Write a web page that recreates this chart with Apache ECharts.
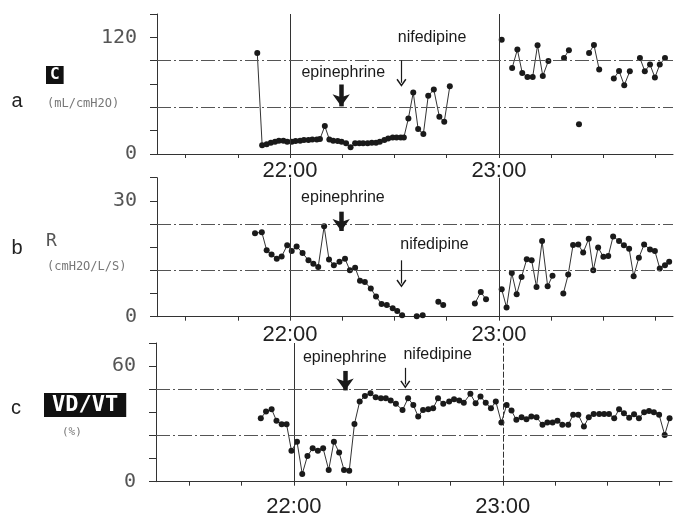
<!DOCTYPE html>
<html><head><meta charset="utf-8">
<script src="https://cdn.jsdelivr.net/npm/echarts@6/dist/echarts.min.js"></script>
<style>html,body{margin:0;padding:0;background:#fff}#chart{width:679px;height:518px}</style>
</head><body><div id="chart"></div>
<script>
// Time is in minutes after 21:00; null marks a break in the trace.
const xTickValues = [30, 45, 60, 75, 90, 105, 120, 135, 150, 165];
const xLabelValues = [60, 120];
const xLabelTexts = ['22:00', '23:00'];

const eventNames = ['epinephrine', 'nifedipine'];
const eventTimes = [74.7, 92.0];

const panelLetters = ['a', 'b', 'c'];
const panelVars = ['C', 'R', 'VD/VT'];
const panelUnits = ['(mL/cmH2O)', '(cmH2O/L/S)', '(%)'];

const aYLabels = [0, 120];
const bYLabels = [0, 30];
const cYLabels = [0, 60];

// a: C (mL/cmH2O)
const aTime = [50.6,52.0,53.3,54.5,55.7,56.8,58.1,59.2,60.5,61.6,
  62.9,64.0,65.3,66.4,67.7,68.6,70.0,71.3,72.4,73.7,
  74.8,76.1,77.4,78.7,79.9,81.0,82.3,83.5,84.7,85.8,
  87.1,88.2,89.5,90.6,91.8,92.7,94.0,95.4,96.8,98.3,
  99.7,101.3,102.9,104.3,105.9,
  null,120.8,null,123.8,125.3,126.7,128.2,129.7,131.1,132.6,134.2,
  null,138.7,140.1,null,143.0,null,145.9,147.3,148.8,
  null,153.0,154.5,156.0,157.6,null,160.5,161.9,163.4,164.8,166.2,167.7];
const aValue = [104,9,10,11.6,12.6,13.6,13.6,12.6,12.6,13.3,
  13.6,14.4,14.4,15,15,15.4,28.7,15,13.6,13.3,
  12.6,11,6.9,11,11,11,11,11.6,11.6,12.6,
  14.4,16,17,17,17,17,36.6,63.3,25.6,20.5,
  59.8,66.3,38.3,33.1,69.7,
  null,117.6,null,88.5,107.4,83.4,79.3,79.3,111.8,80.3,95.7,
  null,98.8,106.7,null,30.5,null,103.9,112.1,86.9,
  null,77.6,85.4,70.8,85.1,null,98.8,85.1,92,78.7,92,98.8];

// b: R (cmH2O/L/S)
const bTime = [49.95,51.9,53.3,54.7,56.2,57.6,59.2,60.5,61.9,63.6,
  65.3,66.7,68.1,69.8,71.2,72.6,74.2,75.8,77.2,78.7,
  80.1,81.5,83.2,84.7,86.3,87.8,89.5,90.8,92.2,
  null,96.4,98.1,null,102.6,104.0,null,113.1,114.8,116.3,
  null,120.8,122.2,123.7,125.1,126.5,128.0,129.4,130.8,132.4,134.0,135.4,
  null,138.5,139.9,141.3,142.8,144.2,145.8,147.1,148.5,150.0,151.4,
  152.8,154.5,155.9,157.4,158.7,160.2,161.7,163.4,164.8,166.2,
  167.7,168.9];
const bValue = [21.6,21.9,17.2,16.1,15.0,15.6,18.5,17.0,18.2,16.5,
  14.6,13.7,12.9,23.4,14.8,13.3,14.2,15.0,12.0,12.7,
  9.3,9.0,7.3,5.2,3.3,3.0,2.2,1.5,0.4,
  null,0.1,0.4,null,3.9,3.0,null,3.4,6.4,4.5,
  null,7.1,2.4,11.3,5.8,10.3,14.9,14.6,7.7,19.6,7.9,10.6,
  null,6.0,10.9,18.6,18.7,16.6,20.2,12.0,17.9,15.5,15.7,
  20.8,19.6,18.5,17.6,10.5,15.3,18.7,17.4,17.0,12.5,
  13.3,14.2];

// c: VD/VT (%)
const cTime = [50.5,52.0,53.6,55.0,56.5,57.9,59.3,60.9,62.4,63.9,
  65.4,66.9,68.4,70.0,71.5,73.0,74.4,75.9,77.4,78.9,
  80.4,82.0,83.5,85.0,86.4,87.8,89.3,91.2,92.8,94.3,
  95.7,97.1,98.6,100.0,101.4,102.9,104.6,106.0,107.5,108.8,
  110.7,112.2,113.6,115.1,116.6,118.0,119.6,121.1,122.5,123.9,
  125.4,126.8,128.2,129.7,131.4,132.8,134.3,135.7,137.1,138.8,
  140.2,141.7,143.3,144.7,146.1,147.7,149.1,150.5,152.0,153.4,
  154.8,156.3,157.7,159.1,160.6,162.0,163.4,164.9,166.5,167.9];
const cValue = [32.9,36.4,37.6,31.7,29.8,29.8,16.1,20.8,4.0,13.4,
  17.3,16.1,17.3,6.1,20.8,15.1,6.1,5.7,30.0,41.6,
  44.5,45.9,43.8,43.3,43.3,42.1,40.4,37.2,43.3,39.8,
  33.8,37.2,37.6,38.1,43.3,40.4,41.6,42.8,42.1,41.0,
  45.6,40.7,44.2,41.0,38.1,41.6,30.7,39.8,36.9,32.1,
  33.5,32.4,33.8,33.5,29.5,30.7,30.7,31.7,29.5,29.5,
  34.7,34.7,28.6,33.5,35.2,35.2,35.2,35.2,32.9,37.6,
  35.5,33.2,35.0,32.9,36.1,36.7,36.1,34.7,24.3,32.9];

// ---------- layout (positions / styles) ----------
const panels = [
  { time: aTime, value: aValue, yLabels: aYLabels,
    grid: {left: 157, top: 14, width: 516, height: 140},
    xMin: 21.8, xMax: 170, yMax: 144, yInt: 24, guides: [48, 96], xLabelMargin: 6,
    epiText: [75.3, 83.4], epiArrow: [71.5, 49.0], nifText: [100.8, 120], nifArrow: [96.4, 73.3],
    vDashed: [false, false] },
  { time: bTime, value: bValue, yLabels: bYLabels,
    grid: {left: 157, top: 177.7, width: 516, height: 139},
    xMin: 21.8, xMax: 170, yMax: 36, yInt: 6, guides: [12, 24], xLabelMargin: 7,
    epiText: [75.2, 30.8], epiArrow: [27.2, 22.2], nifText: [101.5, 18.7], nifArrow: [14.6, 8.6],
    vDashed: [false, false] },
  { time: cTime, value: cValue, yLabels: cYLabels,
    grid: {left: 156, top: 343, width: 516, height: 138.7},
    xMin: 20.4, xMax: 168.6, yMax: 72, yInt: 12, guides: [24, 48], xLabelMargin: 14,
    epiText: [74.6, 64.3], epiArrow: [57.5, 47.4], nifText: [101.3, 65.8], nifArrow: [59.1, 50.5],
    vDashed: [false, true] }
];

const INK = '#1a1a1a';
const chevron = 'path://M5,0 L10,7 L8.8,7.9 L5,2.4 L1.2,7.9 L0,7 Z';

const grids = [], xAxes = [], yAxes = [], series = [];
panels.forEach((p, i) => {
  grids.push(Object.assign({containLabel: false}, p.grid));
  xAxes.push({
    type: 'value', gridIndex: i, min: p.xMin, max: p.xMax,
    axisLine: {onZero: false, lineStyle: {color: '#333', width: 1}},
    axisTick: {customValues: xTickValues, length: 4, lineStyle: {color: '#333'}},
    axisLabel: {customValues: xLabelValues, margin: p.xLabelMargin,
      formatter: v => xLabelTexts[xLabelValues.indexOf(v)] || '',
      fontFamily: 'Liberation Sans', fontSize: 22, color: '#222'},
    splitLine: {show: false}
  });
  yAxes.push({
    type: 'value', gridIndex: i, min: 0, max: p.yMax, interval: p.yInt,
    axisLine: {show: true, lineStyle: {color: '#333', width: 1}},
    axisTick: {show: true, length: 7, lineStyle: {color: '#333'}},
    axisLabel: {customValues: p.yLabels, margin: 20, fontFamily: 'DejaVu Sans Mono',
      fontSize: 20, color: '#555', padding: [0, 0, 14, 0]},
    splitLine: {show: false}
  });
  const data = p.time.map((t, k) => [t === null ? '-' : t, p.value[k] === null ? '-' : p.value[k]]);
  const guideStyle = {type: [14, 3, 2, 3], color: '#555', width: 1};
  series.push({
    type: 'line', xAxisIndex: i, yAxisIndex: i, data: data,
    connectNulls: false, showAllSymbol: true,
    symbol: 'circle', symbolSize: 6,
    itemStyle: {color: INK},
    lineStyle: {color: '#333', width: 1},
    animation: false,
    markLine: {
      silent: true, symbol: ['none', 'none'], label: {show: false}, animation: false,
      data: [
        {xAxis: xLabelValues[0], lineStyle: {type: p.vDashed[0] ? [6, 2] : 'solid', color: '#333', width: 1}},
        {xAxis: xLabelValues[1], lineStyle: {type: p.vDashed[1] ? [6, 2] : 'solid', color: '#333', width: 1}},
        {yAxis: p.guides[0], lineStyle: guideStyle},
        {yAxis: p.guides[1], lineStyle: guideStyle},
        [{coord: [eventTimes[0], p.epiArrow[0]], symbol: 'none', lineStyle: {type: 'solid', color: INK, width: 4.5}},
         {coord: [eventTimes[0], p.epiArrow[1]], symbol: 'arrow', symbolSize: [13, 12]}],
        [{coord: [eventTimes[1], p.nifArrow[0]], symbol: 'none', lineStyle: {type: 'solid', color: INK, width: 1.2}},
         {coord: [eventTimes[1], p.nifArrow[1]], symbol: chevron, symbolSize: [10, 8]}]
      ]
    },
    markPoint: {
      silent: true, symbol: 'circle', symbolSize: 1, itemStyle: {color: 'rgba(0,0,0,0)'},
      animation: false,
      label: {show: true, position: 'inside', formatter: d => d.name,
        fontFamily: 'Liberation Sans', fontSize: 16, color: INK},
      data: [
        {name: eventNames[0], coord: p.epiText},
        {name: eventNames[1], coord: p.nifText}
      ]
    }
  });
});

const monoBox = (txt, x, y, size, padX) => ({
  type: 'text', x: x, y: y,
  style: {text: txt, font: 'bold ' + size + 'px "DejaVu Sans Mono"', fill: '#fff',
    backgroundColor: '#111', padding: [1, padX], align: 'left', verticalAlign: 'middle'}
});
const plain = (txt, x, y, font, fill, align) => ({
  type: 'text', x: x, y: y,
  style: {text: txt, font: font, fill: fill, align: align || 'left', verticalAlign: 'middle'}
});

const graphic = [
  plain(panelLetters[0], 17, 101, '20px "Liberation Sans"', '#222', 'center'),
  monoBox(panelVars[0], 46, 75, 16, 4),
  plain(panelUnits[0], 47, 104, '12px "DejaVu Sans Mono"', '#777'),
  plain(panelLetters[1], 17, 248, '20px "Liberation Sans"', '#222', 'center'),
  plain(panelVars[1], 46, 241, '18px "DejaVu Sans Mono"', '#555'),
  plain(panelUnits[1], 47, 267, '12px "DejaVu Sans Mono"', '#777'),
  plain(panelLetters[2], 16, 408, '20px "Liberation Sans"', '#222', 'center'),
  monoBox(panelVars[2], 44, 405, 22, 8),
  plain(panelUnits[2], 62, 432, '11px "DejaVu Sans Mono"', '#777')
];

const chart = echarts.init(document.getElementById('chart'), null, {renderer: 'canvas'});
chart.setOption({
  animation: false,
  backgroundColor: '#fff',
  grid: grids, xAxis: xAxes, yAxis: yAxes, series: series, graphic: graphic
});
</script>
</body></html>
